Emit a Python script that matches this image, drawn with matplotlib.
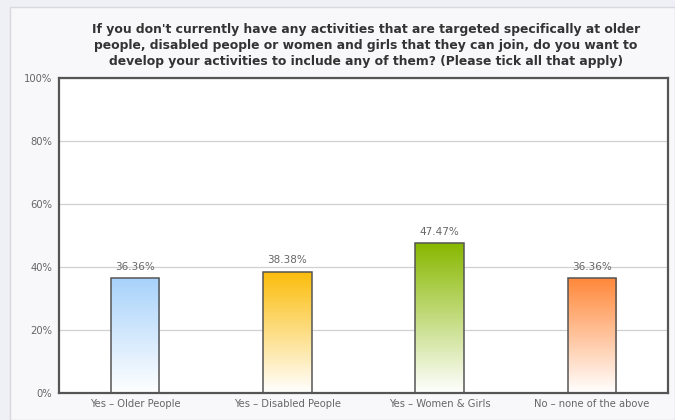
import matplotlib
matplotlib.use("Agg")
import matplotlib.pyplot as plt
import numpy as np
from matplotlib.colors import LinearSegmentedColormap
from matplotlib.patches import Rectangle

categories = ["Yes \u2013 Older People", "Yes \u2013 Disabled People", "Yes \u2013 Women & Girls", "No \u2013 none of the above"]
values = [36.36, 38.38, 47.47, 36.36]
top_colors = ["#a8d2fb", "#fbbd0c", "#88b800", "#ff883a"]
yticks = [0, 20, 40, 60, 80, 100]
title = ("If you don't currently have any activities that are targeted specifically at older\n"
         "people, disabled people or women and girls that they can join, do you want to\n"
         "develop your activities to include any of them? (Please tick all that apply)")

fig = plt.figure(figsize=(6.75, 4.2), dpi=100)
fig.patch.set_facecolor("#eef0f6")
# inner panel
panel = Rectangle((10/675, 0), 1 - 10/675, 1 - 7/420, transform=fig.transFigure,
                  facecolor="#f8f8fa", edgecolor="#d8d8de", linewidth=1, zorder=-10)
fig.patches.append(panel)

ax = fig.add_axes([59/675, 27/420, 609/675, 315/420])
ax.set_zorder(1)
ax.set_facecolor("white")
x = np.arange(len(categories))
width = 0.32
ax.set_xlim(-0.5, len(categories) - 0.5)
ax.set_ylim(0, 100)

grad = np.linspace(1, 0, 256).reshape(-1, 1)
for xi, v, c in zip(x, values, top_colors):
    cmap = LinearSegmentedColormap.from_list("g", ["#ffffff", c])
    ax.imshow(grad, cmap=cmap, vmin=0, vmax=1, aspect="auto",
              extent=[xi - width/2, xi + width/2, 0, v], zorder=2, interpolation="bilinear")
bars = ax.bar(x, values, width=width, facecolor="none", edgecolor="#555555", linewidth=1.1, zorder=3)
ax.set_xlim(-0.5, len(categories) - 0.5)
ax.set_ylim(0, 100)

for xi, v in zip(x, values):
    ax.text(xi, v + 2.2, f"{v:.2f}%", ha="center", va="bottom", fontsize=7.5, color="#666666")

ax.set_yticks(yticks)
ax.set_yticklabels([f"{t}%" for t in yticks])
ax.set_xticks(x)
ax.set_xticklabels(categories)
ax.tick_params(axis="both", length=0, labelsize=7.2, colors="#666666")
ax.tick_params(axis="y", pad=5)
ax.tick_params(axis="x", pad=4)
ax.grid(axis="y", color="#d0d0d0", linewidth=0.9, zorder=1)
ax.set_axisbelow(True)
for s in ax.spines.values():
    s.set_color("#555555")
    s.set_linewidth(1.6)

fig.text(366/675, 1 - 23/420, title, ha="center", va="top", fontsize=8.9,
         fontweight="bold", color="#333333", linespacing=1.3)

fig.savefig("out.png", dpi=100, facecolor=fig.get_facecolor())
